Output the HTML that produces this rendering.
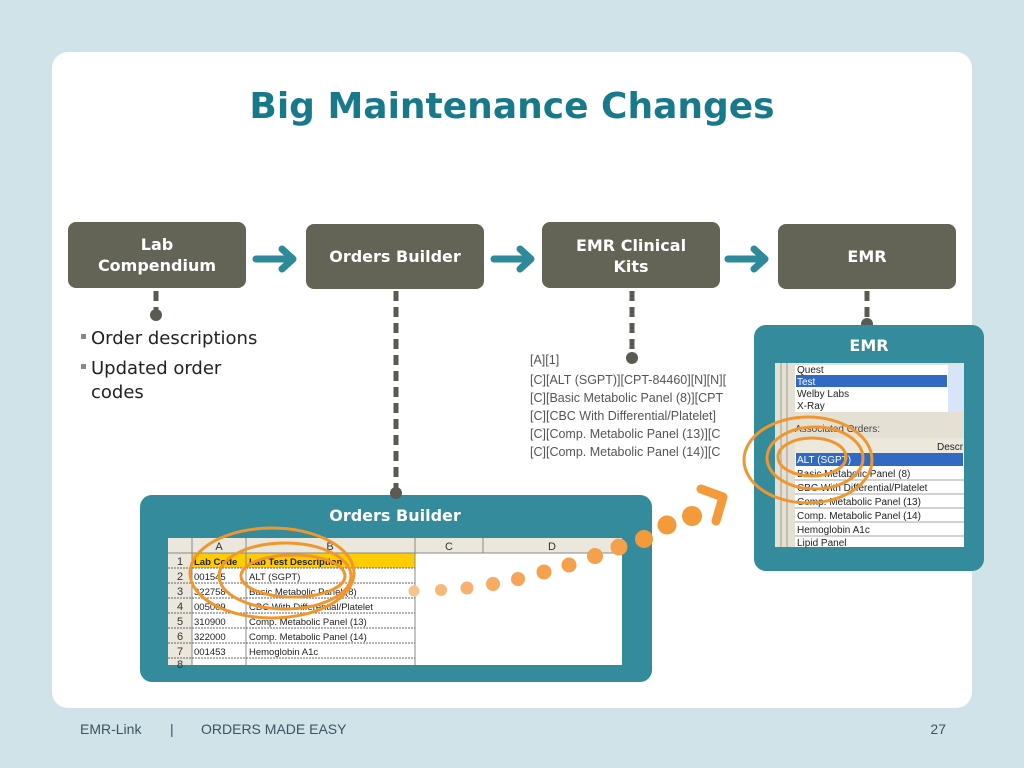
<!DOCTYPE html>
<html><head><meta charset="utf-8"><style>
html,body{margin:0;padding:0;background:#cfe3e8;}
svg{display:block;font-family:"Liberation Sans",sans-serif;}
.v{font-family:"DejaVu Sans",sans-serif;}
</style></head><body>
<svg width="1024" height="768" viewBox="0 0 1024 768">
<rect x="0" y="0" width="1024" height="768" fill="#cfe3e8"/>
<rect x="52" y="52" width="920" height="656" rx="16" fill="#ffffff"/>
<text class="v" x="512" y="118" text-anchor="middle" font-size="36" font-weight="bold" fill="#17798a">Big Maintenance Changes</text>

<!-- top boxes -->
<g fill="#636356">
<rect x="68" y="222" width="178" height="66" rx="8"/>
<rect x="306" y="224" width="178" height="65" rx="8"/>
<rect x="542" y="222" width="178" height="66" rx="8"/>
<rect x="778" y="224" width="178" height="65" rx="8"/>
</g>
<g class="v" fill="#fff" font-weight="bold" font-size="16" text-anchor="middle">
<text x="157" y="250">Lab</text><text x="157" y="271">Compendium</text>
<text x="395" y="262">Orders Builder</text>
<text x="631" y="251">EMR Clinical</text><text x="631" y="272">Kits</text>
<text x="867" y="262">EMR</text>
</g>
<!-- arrows -->
<g stroke="#2e8a9a" stroke-width="7" stroke-linecap="round" stroke-linejoin="round" fill="none">
<path d="M256 259 H290 M282 249 L293 259 L282 269"/>
<path d="M494 259 H528 M520 249 L531 259 L520 269"/>
<path d="M728 259 H762 M754 249 L765 259 L754 269"/>
</g>
<!-- dashed connectors -->
<g stroke="#5a5a52" stroke-width="5" stroke-dasharray="10,6" fill="none">
<path d="M156 291 V312"/>
<path d="M396 291 V488"/>
<path d="M632 291 V356"/>
<path d="M867 291 V322"/>
</g>
<g fill="#5a5a52">
<circle cx="156" cy="315" r="6"/>
<circle cx="632" cy="358" r="6"/>
<circle cx="867" cy="324" r="6"/>
</g>

<!-- bullets -->
<g class="v" font-size="18" fill="#222">
<rect x="81" y="334" width="5" height="5" fill="#888"/>
<text x="91" y="344">Order descriptions</text>
<rect x="81" y="364" width="5" height="5" fill="#888"/>
<text x="91" y="374">Updated order</text>
<text x="91" y="398">codes</text>
</g>

<!-- kits text -->
<g font-size="12.5" fill="#555">
<text x="530" y="364">[A][1]</text>
<text x="530" y="384">[C][ALT (SGPT)][CPT-84460][N][N][</text>
<text x="530" y="402">[C][Basic Metabolic Panel (8)][CPT</text>
<text x="530" y="420">[C][CBC With Differential/Platelet]</text>
<text x="530" y="438">[C][Comp. Metabolic Panel (13)][C</text>
<text x="530" y="456">[C][Comp. Metabolic Panel (14)][C</text>
</g>

<!-- Orders builder panel -->
<rect x="140" y="495" width="512" height="187" rx="12" fill="#338b9b"/>
<circle cx="396" cy="493" r="6" fill="#5a5a52"/>
<text class="v" x="395" y="521" text-anchor="middle" font-size="16" font-weight="bold" fill="#fff">Orders Builder</text>
<rect x="168" y="538" width="454" height="127" fill="#fff"/>
<rect x="168" y="538" width="454" height="15" fill="#ebe7dc"/>
<rect x="168" y="553" width="24" height="112" fill="#ebe7dc"/>
<rect x="192" y="553" width="223" height="15" fill="#ffcc00"/>
<g stroke="#888" stroke-width="1">
<line x1="192" y1="538" x2="192" y2="665"/>
<line x1="246" y1="538" x2="246" y2="665"/>
<line x1="415" y1="538" x2="415" y2="665"/>
<line x1="483" y1="538" x2="483" y2="553"/>
<line x1="168" y1="553" x2="622" y2="553"/>
</g>
<g stroke="#666" stroke-width="1" stroke-dasharray="2,1">
<line x1="168" y1="568" x2="415" y2="568"/><line x1="168" y1="583" x2="415" y2="583"/>
<line x1="168" y1="598" x2="415" y2="598"/><line x1="168" y1="613" x2="415" y2="613"/>
<line x1="168" y1="628" x2="415" y2="628"/><line x1="168" y1="643" x2="415" y2="643"/>
<line x1="168" y1="658" x2="415" y2="658"/>
</g>
<g font-size="11" fill="#333" text-anchor="middle">
<text x="219" y="550">A</text><text x="330" y="550">B</text><text x="449" y="550">C</text><text x="552" y="550">D</text>
<text x="180" y="565">1</text><text x="180" y="580">2</text><text x="180" y="595">3</text><text x="180" y="610">4</text><text x="180" y="625">5</text><text x="180" y="640">6</text><text x="180" y="655">7</text><text x="180" y="668">8</text>
</g>
<g font-size="9.5" fill="#222">
<text x="194" y="565" font-weight="bold">Lab Code</text><text x="249" y="565" font-weight="bold">Lab Test Description</text>
<text x="194" y="580">001545</text><text x="249" y="580">ALT (SGPT)</text>
<text x="194" y="595">322758</text><text x="249" y="595">Basic Metabolic Panel (8)</text>
<text x="194" y="610">005009</text><text x="249" y="610">CBC With Differential/Platelet</text>
<text x="194" y="625">310900</text><text x="249" y="625">Comp. Metabolic Panel (13)</text>
<text x="194" y="640">322000</text><text x="249" y="640">Comp. Metabolic Panel (14)</text>
<text x="194" y="655">001453</text><text x="249" y="655">Hemoglobin A1c</text>
</g>
<g fill="none" stroke="#f0962e" stroke-width="3">
<ellipse cx="272" cy="573" rx="82" ry="45"/>
<ellipse cx="285" cy="576" rx="66" ry="33"/>
<ellipse cx="293" cy="576" rx="52" ry="21"/>
</g>

<!-- EMR panel -->
<rect x="754" y="325" width="230" height="246" rx="12" fill="#338b9b"/>
<text class="v" x="869" y="351" text-anchor="middle" font-size="16" font-weight="bold" fill="#fff">EMR</text>
<rect x="775" y="363" width="189" height="184" fill="#e4e0d4"/>
<g stroke="#a09c90"><line x1="781" y1="363" x2="781" y2="547"/><line x1="787" y1="363" x2="787" y2="547"/></g>
<rect x="795" y="365" width="153" height="47" fill="#fff"/>
<rect x="796" y="375" width="151" height="12" fill="#316ac5"/>
<rect x="948" y="365" width="15" height="47" fill="#d8e4f8"/>
<g font-size="10" fill="#222">
<text x="797" y="373">Quest</text>
<text x="797" y="385" fill="#fff">Test</text>
<text x="797" y="397">Welby Labs</text>
<text x="797" y="409">X-Ray</text>
<text x="795" y="432" fill="#444">Associated Orders:</text>
</g>
<rect x="795" y="438" width="169" height="109" fill="#fff"/>
<rect x="795" y="438" width="169" height="15" fill="#ece9dc"/>
<text x="937" y="450" font-size="10" fill="#222">Descr</text>
<rect x="796" y="453" width="167" height="13" fill="#316ac5"/>
<g stroke="#888" stroke-width="0.7">
<line x1="795" y1="480" x2="964" y2="480"/><line x1="795" y1="494" x2="964" y2="494"/>
<line x1="795" y1="508" x2="964" y2="508"/><line x1="795" y1="522" x2="964" y2="522"/>
<line x1="795" y1="536" x2="964" y2="536"/>
</g>
<g font-size="10" fill="#222">
<text x="797" y="463" fill="#fff">ALT (SGPT)</text>
<text x="797" y="477">Basic Metabolic Panel (8)</text>
<text x="797" y="491">CBC With Differential/Platelet</text>
<text x="797" y="505">Comp. Metabolic Panel (13)</text>
<text x="797" y="519">Comp. Metabolic Panel (14)</text>
<text x="797" y="533">Hemoglobin A1c</text>
<text x="797" y="546">Lipid Panel</text>
</g>
<g fill="none" stroke="#f0962e" stroke-width="3">
<ellipse cx="808" cy="460" rx="64" ry="43"/>
<ellipse cx="815" cy="458" rx="48" ry="31"/>
<ellipse cx="812" cy="457" rx="34" ry="19"/>
</g>

<!-- dots chain -->
<g fill="#f5a04a">
<circle cx="414" cy="591" r="5.5" fill="#f9c48a"/>
<circle cx="441" cy="590" r="6" fill="#f7b878"/>
<circle cx="467" cy="588" r="6.5" fill="#f7b070"/>
<circle cx="493" cy="584" r="7" fill="#f6aa62"/>
<circle cx="518" cy="579" r="7" fill="#f6a558"/>
<circle cx="544" cy="572" r="7.5"/>
<circle cx="569" cy="565" r="7.5"/>
<circle cx="595" cy="556" r="8"/>
<circle cx="619" cy="547" r="8.5"/>
<circle cx="644" cy="539" r="9" fill="#f39a3a"/>
<circle cx="667" cy="525" r="9.5" fill="#f39a3a"/>
<circle cx="692" cy="516" r="10" fill="#f39a3a"/>
</g>
<path d="M701 489 L723 497 L716 521" fill="none" stroke="#f39a3a" stroke-width="9" stroke-linecap="round" stroke-linejoin="round"/>

<!-- footer -->
<g font-size="14" fill="#3a5560">
<text x="80" y="734">EMR-Link</text>
<text x="170" y="734">|</text>
<text x="201" y="734">ORDERS MADE EASY</text>
<text x="946" y="734" text-anchor="end">27</text>
</g>
</svg>
</body></html>
